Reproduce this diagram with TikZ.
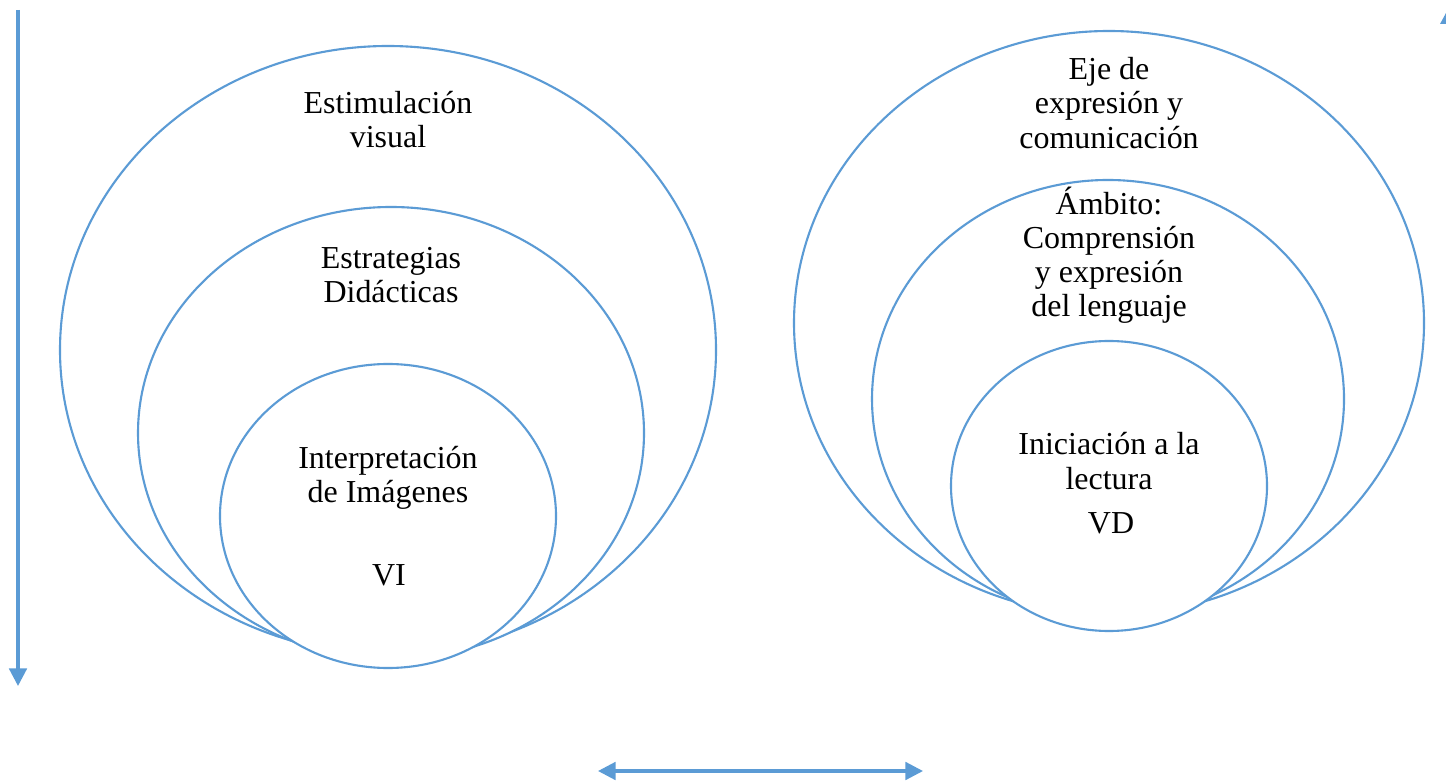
\documentclass[tikz,border=0pt]{standalone}
\usepackage{fontspec}
\setmainfont{Liberation Serif}
\usetikzlibrary{arrows.meta}
\definecolor{ringblue}{HTML}{5B9BD5}
\tikzset{
  ring/.style={draw=ringblue, fill=white, line width=1.2pt},
  label/.style={align=center, inner sep=0pt, font=\fontsize{18.2}{19.4}\selectfont},
  axis/.style={draw=ringblue, line width=1.8pt, -{Triangle[length=10pt,width=10pt]}}
}
\begin{document}
\begin{tikzpicture}[x=0.02cm, y=0.02cm]
            \useasboundingbox (0,0) rectangle (1446,-783);
            % arrow ends
            \coordinate (T) at (18,-10) {};
            \coordinate (D) at (18,-686) {};
            \coordinate (L) at (598,-771) {};
            \coordinate (R) at (923,-771) {};
            % left rings
            \draw[ring] (388,-350) ellipse [x radius=328, y radius=304];
            \draw[ring] (391,-433) ellipse [x radius=253, y radius=226];
            \draw[ring] (388,-516) ellipse [x radius=168, y radius=152];
            % right rings
            \draw[ring] (1109,-323) ellipse [x radius=315, y radius=292];
            \draw[ring] (1108,-399) ellipse [x radius=236, y radius=219];
            \draw[ring] (1109,-486) ellipse [x radius=158, y radius=145];
            % texts
            \node[label] (estim) at (388,-120) {Estimulación\\visual};
            \node[label] (estra) at (391,-275) {Estrategias\\Didácticas};
            \node[label] (inter) at (388,-478) {Interpretación\\de Imágenes};
            \node[label] (vi) at (389,-575) {VI};
            \node[label] (eje) at (1109,-103) {Eje de\\expresión y\\comunicación};
            \node[label] (ambito) at (1109,-255) {Ámbito:\\Comprensión\\y expresión\\del lenguaje};
            \node[label] (inic) at (1109,-461) {Iniciación a la\\lectura};
            \node[label] (vd) at (1111,-523) {VD};
            % arrows
            \draw[axis] (T) -- (D);
            \draw[axis, {Triangle[length=10pt,width=10pt]}-{Triangle[length=10pt,width=10pt]}] (L) -- (R);
            \fill[ringblue] (1440,-24) -- (1446,-24) -- (1446,-13) -- cycle;
        \end{tikzpicture}
\end{document}
